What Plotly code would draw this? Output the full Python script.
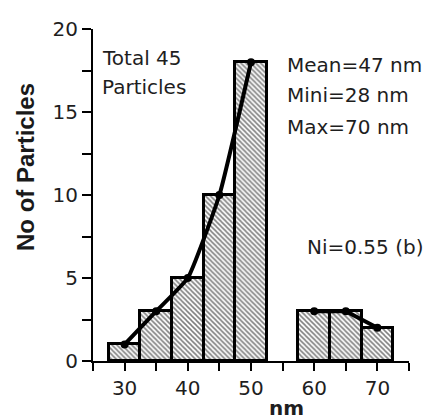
import plotly.graph_objects as go

# Data
sizes = [30, 35, 40, 45, 50, 60, 65, 70]
counts = [1, 3, 5, 10, 18, 3, 3, 2]
curve1_x = [30, 35, 40, 45, 50]
curve1_y = [1, 3, 5, 10, 18]
curve2_x = [60, 65, 70]
curve2_y = [3, 3, 2]
x_ticks = [30, 40, 50, 60, 70]
y_ticks = [0, 5, 10, 15, 20]

W, H = 440, 419
L, R, T, B = 93, 31, 29, 58
pw, ph = W - L - R, H - T - B

def px(x):
    return (x - L) / pw

def py(y):
    return (H - B - y) / ph

fig = go.Figure()
fig.add_trace(go.Bar(
    x=sizes, y=counts, width=5,
    marker=dict(color="white",
                line=dict(color="black", width=3),
                pattern=dict(shape="\\", fgcolor="black", bgcolor="white",
                             size=3.5, solidity=0.45)),
    showlegend=False,
))
fig.add_trace(go.Scatter(
    x=curve1_x, y=curve1_y, mode="lines+markers",
    line=dict(color="black", width=4, shape="spline", smoothing=0.4),
    marker=dict(color="black", size=8),
    showlegend=False,
))
fig.add_trace(go.Scatter(
    x=curve2_x, y=curve2_y, mode="lines+markers",
    line=dict(color="black", width=4),
    marker=dict(color="black", size=8),
    showlegend=False,
))

tick_font = dict(family="DejaVu Sans", size=20, color="#1e1e1e")
fig.update_xaxes(
    range=[25, 75], tickvals=x_ticks, ticktext=[str(v) for v in x_ticks],
    ticks="outside", ticklen=8, tickwidth=2, tickcolor="black",
    minor=dict(dtick=5, tick0=25, ticks="outside", ticklen=8, tickwidth=2, tickcolor="black"),
    showline=True, linecolor="black", linewidth=2, showgrid=False, zeroline=False,
    tickfont=tick_font, fixedrange=True,
)
fig.update_yaxes(
    range=[0, 20], tickvals=y_ticks, ticktext=[str(v) for v in y_ticks],
    ticks="outside", ticklen=9, tickwidth=2, tickcolor="black",
    minor=dict(dtick=2.5, tick0=0, ticks="outside", ticklen=9, tickwidth=2, tickcolor="black"),
    showline=True, linecolor="black", linewidth=2, showgrid=False, zeroline=False,
    tickfont=tick_font, fixedrange=True,
)

txt_font = dict(family="DejaVu Sans", size=20, color="#1e1e1e")
annots = [
    ("Total 45", 100, 58),
    ("Particles", 100, 87),
    ("Mean=47 nm", 285, 65),
    ("Mini=28 nm", 285, 95),
    ("Max=70 nm", 285, 127),
    ("Ni=0.55 (b)", 305, 247),
]
for text, x, y in annots:
    fig.add_annotation(text=text, x=px(x), y=py(y), xref="paper", yref="paper",
                       xanchor="left", yanchor="middle", showarrow=False, font=txt_font)

fig.add_annotation(text="<b>No of Particles</b>", x=px(26), y=py(167), xref="paper", yref="paper",
                   textangle=-90, xanchor="center", yanchor="middle", showarrow=False,
                   font=dict(family="Liberation Sans", size=24, color="#1a1a1a"))
fig.add_annotation(text="<b>nm</b>", x=px(286), y=py(408), xref="paper", yref="paper",
                   xanchor="center", yanchor="middle", showarrow=False,
                   font=dict(family="DejaVu Sans", size=20, color="#1e1e1e"))

fig.update_layout(
    width=W, height=H, margin=dict(l=L, r=R, t=T, b=B),
    paper_bgcolor="white", plot_bgcolor="white", bargap=0,
)
fig.write_html("out.html", config={"displayModeBar": False},
               post_script="document.body.style.margin='0';")
